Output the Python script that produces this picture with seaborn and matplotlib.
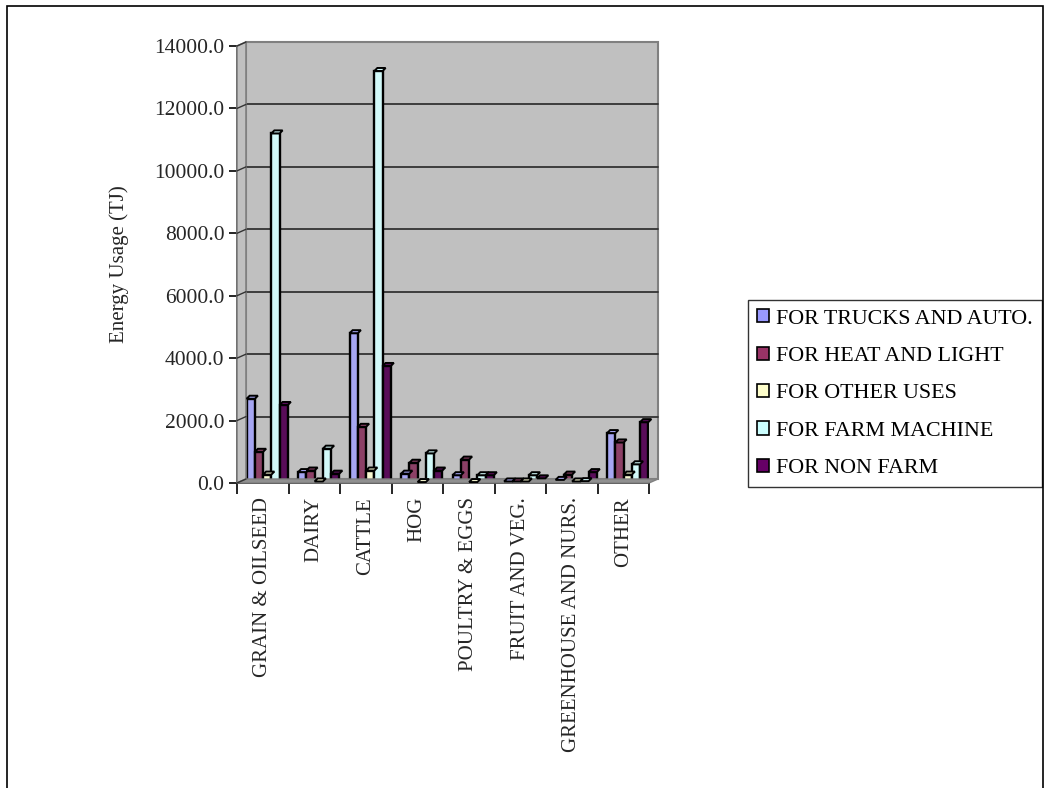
import numpy as np
import pandas as pd
import matplotlib
matplotlib.use("Agg")
import matplotlib.pyplot as plt
import matplotlib.transforms as mtransforms
from matplotlib.patches import Rectangle, Polygon, Patch
import seaborn as sns

# Farm types on the x axis
categories = ["GRAIN & OILSEED", "DAIRY", "CATTLE", "HOG", "POULTRY & EGGS",
              "FRUIT AND VEG.", "GREENHOUSE AND NURS.", "OTHER"]

# Energy usage (TJ) by purpose, one value per farm type
trucks_auto = [2700, 350, 4800, 300, 250, 50, 100, 1600]
heat_light = [1000, 400, 1800, 650, 750, 50, 270, 1300]
other_uses = [270, 50, 400, 30, 30, 50, 50, 270]
farm_machine = [11200, 1100, 13200, 950, 250, 250, 60, 600]
non_farm = [2500, 300, 3750, 400, 250, 150, 350, 1950]

series_names = ["FOR TRUCKS AND AUTO.", "FOR HEAT AND LIGHT", "FOR OTHER USES",
                "FOR FARM MACHINE", "FOR NON FARM"]
series_colors = ["#9999FF", "#993366", "#FFFFCC", "#CCFFFF", "#660066"]

yticks = [0, 2000, 4000, 6000, 8000, 10000, 12000, 14000]

rows = []
for name, vals in zip(series_names, [trucks_auto, heat_light, other_uses, farm_machine, non_farm]):
    for cat, v in zip(categories, vals):
        rows.append({"category": cat, "use": name, "value": v})
df = pd.DataFrame(rows)

sns.set_theme(style="white")
plt.rcParams["font.family"] = ["Liberation Serif", "DejaVu Serif"]
plt.rcParams["text.color"] = "black"

W, H, DPI = 1051, 788, 100
fig = plt.figure(figsize=(W / DPI, H / DPI), dpi=DPI)
fig.patch.set_facecolor("white")

# axes frame in pixels: left 237, right 649, bottom 483, top 46
ax = fig.add_axes([237 / W, 1 - 483 / H, (649 - 237) / W, (483 - 46) / H])
ax.set_facecolor("none")

sns.barplot(data=df, x="category", y="value", hue="use", order=categories,
            hue_order=series_names, palette=series_colors, width=0.8,
            edgecolor="black", linewidth=1.7, errorbar=None, legend=False,
            ax=ax, zorder=3)

ax.set_xlim(-0.5, len(categories) - 0.5)
ax.set_ylim(0, 14000)

inv = fig.transFigure.inverted()

def px(dx, dy):
    return mtransforms.ScaledTranslation(dx / DPI, dy / DPI, fig.dpi_scale_trans)

# depth offset of the back wall (pixels)
back = ax.transData + px(9, 4)

# shift bars half the depth and add a small top face to each
shift = ax.transData + px(4.5, 0)
for p in list(ax.patches):
    p.set_transform(shift)
    x0, w, h = p.get_x(), p.get_width(), p.get_height()
    a = shift.transform((x0, h))
    b = shift.transform((x0 + w, h))
    c = b + np.array([3.0, 3.0])
    d = a + np.array([3.0, 3.0])
    fig.patches.append(Polygon(inv.transform([a, b, c, d]), closed=True,
                               transform=fig.transFigure, facecolor=p.get_facecolor(),
                               edgecolor="black", linewidth=1.4, zorder=3))

x0d, x1d = -0.5, len(categories) - 0.5
# back wall
ax.add_patch(Rectangle((x0d, 0), x1d - x0d, 14000, transform=back, facecolor="#C0C0C0",
                       edgecolor="#808080", linewidth=1.5, zorder=0, clip_on=False))
# grid lines on the back wall
for t in yticks[1:-1]:
    ax.plot([x0d, x1d], [t, t], transform=back, color="#333333", linewidth=1.3,
            zorder=1, clip_on=False)
tl = ax.transData
p_front_bot = tl.transform((x0d, 0))
p_front_top = tl.transform((x0d, 14000))
p_back_top = back.transform((x0d, 14000))
p_back_bot = back.transform((x0d, 0))
# left side wall
fig.patches.append(Polygon(inv.transform([p_front_bot, p_front_top, p_back_top, p_back_bot]),
                           closed=True, transform=fig.transFigure, facecolor="#C0C0C0",
                           edgecolor="#808080", linewidth=1.2, zorder=0))
# floor
f1 = tl.transform((x1d, 0))
f2 = back.transform((x1d, 0))
fig.patches.append(Polygon(inv.transform([p_front_bot, f1, f2, p_back_bot]), closed=True,
                           transform=fig.transFigure, facecolor="#909090",
                           edgecolor="#808080", linewidth=1.0, zorder=0))
# short connectors from the y ticks to the wall
for t in yticks:
    a = tl.transform((x0d, t))
    b = back.transform((x0d, t))
    fig.lines.append(plt.Line2D(*zip(*inv.transform([a, b])), transform=fig.transFigure,
                                color="#333333", linewidth=1.0))

# y axis
ax.set_yticks(yticks)
ax.set_yticklabels([f"{t:.1f}" for t in yticks], fontsize=15.5)
ax.set_ylabel("Energy Usage (TJ)", fontsize=15, labelpad=18)
ax.tick_params(axis="y", direction="out", length=6, width=1.2, color="black", pad=3, left=True)

# x axis: ticks at category boundaries, labels at centres
ax.set_xticks(np.arange(len(categories) + 1) - 0.5)
ax.set_xticklabels([])
ax.set_xticks(np.arange(len(categories)), minor=True)
ax.set_xticklabels(categories, minor=True, rotation=90, fontsize=15, va="top", ha="center")
ax.tick_params(axis="x", which="major", direction="out", length=8, width=1.2, color="black", bottom=True)
ax.tick_params(axis="x", which="minor", length=0, pad=10)
ax.set_xlabel("")

for s in ["top", "right"]:
    ax.spines[s].set_visible(False)
for s in ["left", "bottom"]:
    ax.spines[s].set_color("black")
    ax.spines[s].set_linewidth(1.2)
    ax.spines[s].set_zorder(5)

# legend
handles = [Patch(facecolor=c, edgecolor="black", linewidth=1.2) for c in series_colors]
leg = fig.legend(handles, series_names, loc="upper left",
                 bbox_to_anchor=(748 / W, 1 - 300 / H), bbox_transform=fig.transFigure,
                 fontsize=15.8, frameon=True, fancybox=False, shadow=False,
                 handlelength=0.55, handleheight=0.55, handletextpad=0.3,
                 labelspacing=0.82, borderpad=0.42, borderaxespad=0)
leg.get_frame().set_edgecolor("black")
leg.get_frame().set_linewidth(1.0)

# outer border of the chart
fig.patches.append(Rectangle((7 / W, -0.05), (1043 - 7) / W, 1.05 - 6 / H,
                             transform=fig.transFigure, fill=False, edgecolor="black",
                             linewidth=1.2, zorder=10))

fig.savefig("out.png", dpi=DPI)
